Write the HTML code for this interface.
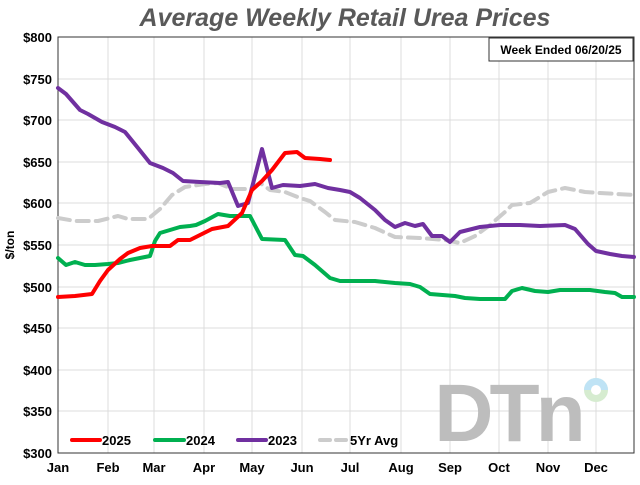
<!DOCTYPE html>
<html><head><style>
body{margin:0;background:#fff;width:640px;height:480px;overflow:hidden}
text{font-family:"Liberation Sans",sans-serif;font-weight:bold}
</style></head><body>
<svg width="640" height="480" viewBox="0 0 640 480">
<text x="345" y="26" text-anchor="middle" font-size="25" font-style="italic" fill="#595959">Average Weekly Retail Urea Prices</text>
<g stroke="#dcdcdc" stroke-width="1">
<line x1="58" y1="79" x2="634" y2="79"/><line x1="58" y1="120" x2="634" y2="120"/><line x1="58" y1="162" x2="634" y2="162"/><line x1="58" y1="203" x2="634" y2="203"/><line x1="58" y1="245" x2="634" y2="245"/><line x1="58" y1="287" x2="634" y2="287"/><line x1="58" y1="328" x2="634" y2="328"/><line x1="58" y1="370" x2="634" y2="370"/><line x1="58" y1="411" x2="634" y2="411"/>
<line x1="108" y1="37" x2="108" y2="453"/><line x1="154" y1="37" x2="154" y2="453"/><line x1="204" y1="37" x2="204" y2="453"/><line x1="252" y1="37" x2="252" y2="453"/><line x1="302" y1="37" x2="302" y2="453"/><line x1="350" y1="37" x2="350" y2="453"/><line x1="401" y1="37" x2="401" y2="453"/><line x1="450" y1="37" x2="450" y2="453"/><line x1="499" y1="37" x2="499" y2="453"/><line x1="548" y1="37" x2="548" y2="453"/><line x1="596" y1="37" x2="596" y2="453"/>
</g>
<rect x="58" y="37" width="576" height="416" fill="none" stroke="#333" stroke-width="1"/>
<g font-size="13" fill="#000" text-anchor="end">
<text x="52" y="42">$800</text><text x="52" y="84">$750</text><text x="52" y="125">$700</text><text x="52" y="167">$650</text><text x="52" y="208">$600</text><text x="52" y="250">$550</text><text x="52" y="292">$500</text><text x="52" y="333">$450</text><text x="52" y="375">$400</text><text x="52" y="416">$350</text><text x="52" y="458">$300</text>
</g>
<g font-size="13" fill="#000" text-anchor="middle">
<text x="58" y="472">Jan</text><text x="108" y="472">Feb</text><text x="154" y="472">Mar</text><text x="204" y="472">Apr</text><text x="252" y="472">May</text><text x="302" y="472">Jun</text><text x="350" y="472">Jul</text><text x="401" y="472">Aug</text><text x="450" y="472">Sep</text><text x="499" y="472">Oct</text><text x="548" y="472">Nov</text><text x="596" y="472">Dec</text>
</g>
<text transform="translate(14,245) rotate(-90)" font-size="12" text-anchor="middle">$/ton</text>
<rect x="489" y="38" width="144" height="23" fill="#fff" stroke="#333"/>
<text x="561" y="54" font-size="12" text-anchor="middle">Week Ended 06/20/25</text>
<text x="508" y="441" font-size="82" fill="#bdbdbd" text-anchor="middle" font-family="Liberation Sans" style="letter-spacing:-4px">DTn</text>
<circle cx="596" cy="390" r="12" fill="#d6ecd0"/><path d="M584 390 A12 12 0 0 1 608 390 Z" fill="#bfe3f5"/><circle cx="596" cy="390" r="5" fill="#fff"/>
<g fill="none" stroke-linejoin="round" stroke-linecap="round">
<polyline stroke="#cccccc" stroke-width="4" stroke-dasharray="12,7" points="58,218 75,221 98,221 118,216 128,219 148,219 160,209 172,195 185,187 205,184 218,183 232,189 250,189 260,183 270,190 285,192 300,198 310,201 325,212 335,220 355,222 375,228 395,237 420,238 445,240 460,243 475,236 490,225 505,212 512,205 530,203 548,192 565,188 585,192 600,193 634,195"/>
<polyline stroke="#00b050" stroke-width="4" points="58,258 66,265 75,262 85,265 95,265 108,264 118,263 130,260 140,258 150,256 155,241 160,233 170,230 180,227 190,226 196,225 205,221 218,214 230,216 250,216 262,239 285,240 295,255 303,256 315,265 330,278 340,281 360,281 375,281 395,283 410,284 420,287 430,294 455,296 465,298 480,299 505,299 512,291 522,288 535,291 548,292 560,290 590,290 605,292 615,293 622,297 634,297"/>
<polyline stroke="#7030a0" stroke-width="4" points="58,88 66,94 80,110 88,114 102,122 115,127 125,132 138,148 150,163 163,168 173,173 183,181 200,182 220,183 228,182 238,206 248,203 262,149 272,188 283,185 300,186 315,184 328,188 340,190 350,192 360,198 375,210 385,220 395,227 405,223 415,226 423,224 432,236 442,236 450,242 460,232 480,227 500,225 520,225 540,226 565,225 575,229 588,244 596,251 610,254 622,256 634,257"/>
<polyline stroke="#ff0000" stroke-width="4" points="58,297 75,296 92,294 100,281 108,270 120,259 128,253 140,248 152,246 170,246 178,240 190,240 200,235 212,229 228,226 242,213 252,190 262,181 272,170 285,153 297,152 305,158 320,159 330,160"/>
<line x1="72" y1="440" x2="100" y2="440" stroke="#ff0000" stroke-width="4"/>
<line x1="155" y1="440" x2="184" y2="440" stroke="#00b050" stroke-width="4"/>
<line x1="238" y1="440" x2="266" y2="440" stroke="#7030a0" stroke-width="4"/>
<line x1="320" y1="440" x2="346" y2="440" stroke="#cccccc" stroke-width="4" stroke-dasharray="10,6"/>
</g>
<g font-size="13"><text x="102" y="445">2025</text><text x="186" y="445">2024</text><text x="268" y="445">2023</text><text x="350" y="445">5Yr Avg</text></g>
</svg>
</body></html>
